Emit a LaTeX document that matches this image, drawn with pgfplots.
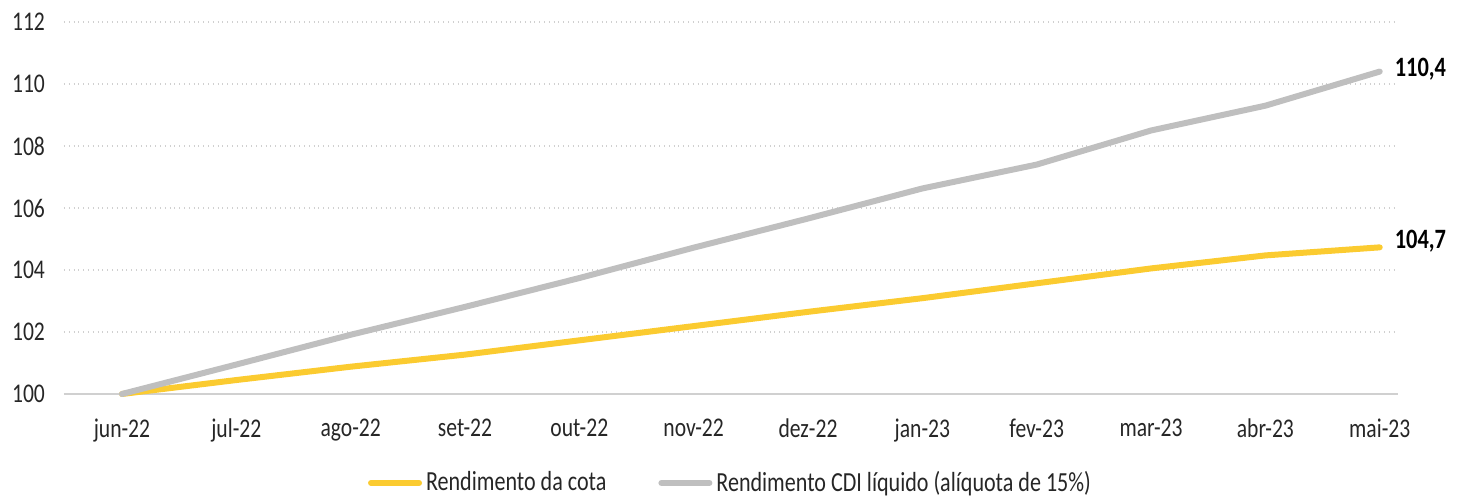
\documentclass[border=0pt]{standalone}
\usepackage{fontspec}
\setmainfont{Carlito}[FakeStretch=0.8]
\usepackage{pgfplots}
\pgfplotsset{compat=1.18}
\definecolor{cyel}{HTML}{FBCB30}
\definecolor{cgray}{HTML}{BFBFBF}
\definecolor{cgrid}{HTML}{D0D0D0}
\definecolor{ctext}{HTML}{262626}
\begin{document}
\begin{tikzpicture}
\begin{axis}[
  scale only axis,
  width=667pt, height=186pt,
  xmin=-0.507, xmax=11.16,
  ymin=100, ymax=112,
  xtick={0,...,11},
  xticklabels={jun-22,jul-22,ago-22,set-22,out-22,nov-22,dez-22,jan-23,fev-23,mar-23,abr-23,mai-23},
  ytick={100,102,...,112},
  major tick length=0pt,
  axis x line*=bottom,
  axis y line*=left,
  y axis line style={draw=none},
  x axis line style={draw=cgrid, line width=1pt, -},
  ymajorgrids,
  major grid style={draw=cgrid, dotted, line width=0.8pt},
  tick label style={font=\fontsize{13.5}{16}\selectfont, text=ctext},
  /pgf/number format/assume math mode=true,
  yticklabel style={xshift=-6pt},
  xticklabel style={yshift=-9pt},
  clip=false,
  legend style={draw=none, at={(rel axis cs:0.5004,-0.239)}, anchor=center,
    font=\fontsize{13.8}{16}\selectfont, text=ctext,
    legend columns=2, /tikz/every even column/.append style={column sep=24pt},
    cells={inner xsep=1pt},
    inner sep=0pt},
  legend image code/.code={\draw[#1, line width=3pt, line cap=round] (-2pt,0pt) -- (22pt,0pt);},
]
\path (rel axis cs:-0.04798,-0.2742) rectangle (rel axis cs:1.04798,1.0591);
\addplot[cyel, line width=3pt, line cap=round, line join=round] coordinates {
(0,100) (1,100.45) (2,100.88) (3,101.27) (4,101.73) (5,102.19) (6,102.65) (7,103.09) (8,103.57) (9,104.05) (10,104.47) (11,104.73)};
\addlegendentry{Rendimento da cota}
\addplot[cgray, line width=3pt, line cap=round, line join=round] coordinates {
(0,100) (1,100.95) (2,101.91) (3,102.81) (4,103.74) (5,104.72) (6,105.66) (7,106.63) (8,107.40) (9,108.50) (10,109.30) (11,110.40)};
\addlegendentry{Rendimento CDI líquido (alíquota de 15\%)}
\node[anchor=west, text=black, font=\fontsize{14}{16}\selectfont\bfseries, xshift=4pt, yshift=1pt] at (axis cs:11,110.4) {110,4};
\node[anchor=west, text=black, font=\fontsize{14}{16}\selectfont\bfseries, xshift=4pt, yshift=3pt] at (axis cs:11,104.73) {104,7};
\end{axis}
\end{tikzpicture}
\end{document}
